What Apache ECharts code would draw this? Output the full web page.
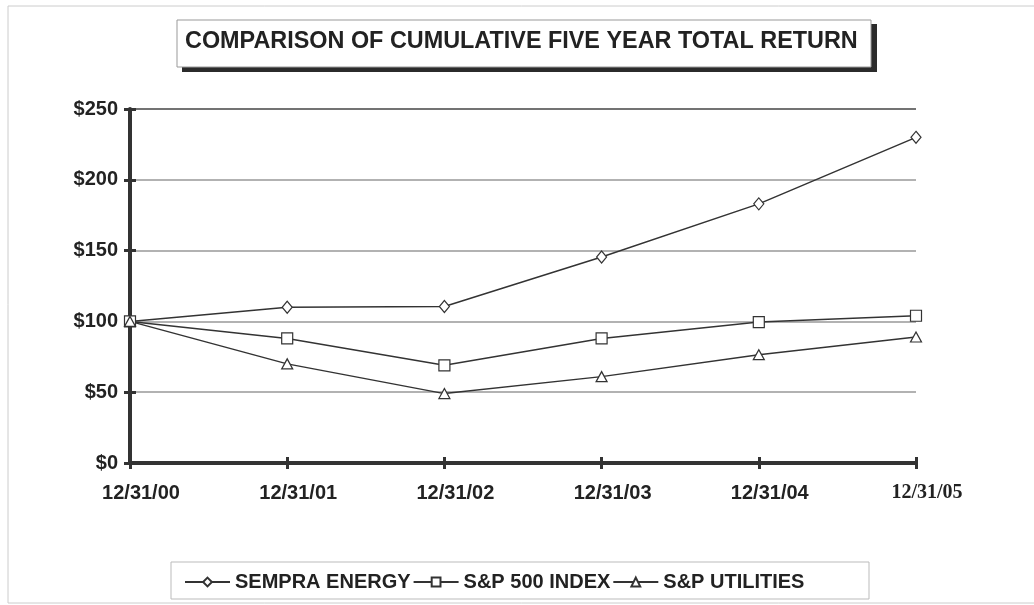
<!DOCTYPE html>
<html>
<head>
    <meta charset="utf-8" />
    <title>Cumulative Five Year Total Return</title>
    <style>
        html, body { margin: 0; padding: 0; background: #fff; }
        #main { width: 1034px; height: 605px; }
    </style>
    <script src="https://cdn.jsdelivr.net/npm/echarts@6/dist/echarts.min.js"></script>
</head>
<body>
    <div id="main"></div>
    <script type="text/javascript">
        // data
        const dates = ['12/31/00', '12/31/01', '12/31/02', '12/31/03', '12/31/04', '12/31/05'];
        const sempra = [100, 110, 110.5, 145.5, 183, 230];
        const sp500 = [100, 88, 69, 88, 99.5, 104];
        const utilities = [100, 70, 49, 61, 76.5, 89];
        const seriesNames = ['SEMPRA ENERGY', 'S&P 500 INDEX', 'S&P UTILITIES'];

        const FONT = '"Liberation Sans", Arial, sans-serif';
        const INK = '#333';

        const myChart = echarts.init(document.getElementById('main'));

        function lineSeries(name, data, symbol, size) {
            return {
                name: name,
                type: 'line',
                data: data,
                symbol: symbol,
                symbolSize: size,
                showAllSymbol: true,
                lineStyle: { color: INK, width: 1.5 },
                itemStyle: { color: '#fff', borderColor: INK, borderWidth: 1.2 },
                emphasis: { disabled: true }
            };
        }

        const option = {
            animation: false,
            backgroundColor: '#fff',
            graphic: [
                // outer frame
                { type: 'rect', shape: { x: 8, y: 6, width: 1040, height: 597 },
                  style: { fill: 'none', stroke: '#ccc', lineWidth: 1 }, z: -10 },
                // title shadow + box
                { type: 'rect', shape: { x: 182, y: 24, width: 695, height: 48 },
                  style: { fill: '#2b2b2b' }, z: 1 },
                { type: 'rect', shape: { x: 177, y: 20, width: 694, height: 47 },
                  style: { fill: '#fff', stroke: '#999', lineWidth: 1 }, z: 2 },
                { type: 'text', left: 185, top: 30, z: 3,
                  style: { text: 'COMPARISON OF CUMULATIVE FIVE YEAR TOTAL RETURN',
                           font: 'bold 23.4px ' + FONT, fill: '#222' } },
                // legend box
                { type: 'rect', shape: { x: 171, y: 562, width: 698, height: 37 },
                  style: { fill: '#fff', stroke: '#bbb', lineWidth: 1 }, z: -5 }
            ],
            legend: {
                data: seriesNames,
                top: 567,
                left: 179,
                itemWidth: 45,
                itemHeight: 11,
                itemGap: 2,
                textStyle: { fontFamily: FONT, fontWeight: 'bold', fontSize: 20, color: '#222' },
                selectedMode: false
            },
            grid: { left: 130, right: 118, top: 109, bottom: 142, containLabel: false },
            xAxis: [{
                type: 'category',
                data: dates,
                boundaryGap: false,
                axisLine: { lineStyle: { color: INK, width: 4 } },
                axisTick: { show: true, interval: 0, length: 6, lineStyle: { color: INK, width: 3 } },
                axisLabel: {
                    interval: 0,
                    fontFamily: FONT, fontWeight: 'bold', fontSize: 20, color: '#222', margin: 20,
                    padding: [0, 0, 0, 22],
                    formatter: function (v, i) {
                        return i === dates.length - 1 ? '{serif|' + v + '}' : v;
                    },
                    rich: { serif: { fontFamily: '"Liberation Serif", serif', fontWeight: 'bold', fontSize: 20, color: '#222' } }
                },
                splitLine: { show: false }
            }, {
                // inner half of the crossing ticks
                type: 'category',
                data: dates,
                position: 'bottom',
                boundaryGap: false,
                axisLine: { show: false },
                axisTick: { show: true, inside: true, interval: 0, length: 6, lineStyle: { color: INK, width: 3 } },
                axisLabel: { show: false },
                splitLine: { show: false }
            }],
            yAxis: [{
                type: 'value',
                min: 0,
                max: 250,
                interval: 50,
                axisLine: { show: true, lineStyle: { color: INK, width: 4 } },
                axisTick: { show: true, length: 6, lineStyle: { color: INK, width: 3 } },
                axisLabel: {
                    fontFamily: FONT, fontWeight: 'bold', fontSize: 20, color: '#222', margin: 12,
                    formatter: function (v) { return '$' + v; }
                },
                splitLine: { lineStyle: { color: ['#999', '#999', '#999', '#999', '#999', '#444'], width: 1.5 } }
            }, {
                type: 'value',
                position: 'left',
                min: 0,
                max: 250,
                interval: 50,
                axisLine: { show: false },
                axisTick: { show: true, inside: true, length: 6, lineStyle: { color: INK, width: 3 } },
                axisLabel: { show: false },
                splitLine: { show: false }
            }],
            series: [
                lineSeries(seriesNames[0], sempra, 'diamond', [10, 12]),
                lineSeries(seriesNames[1], sp500, 'rect', 11),
                lineSeries(seriesNames[2], utilities, 'triangle', [11, 10])
            ]
        };
        myChart.setOption(option);
    </script>
</body>
</html>
